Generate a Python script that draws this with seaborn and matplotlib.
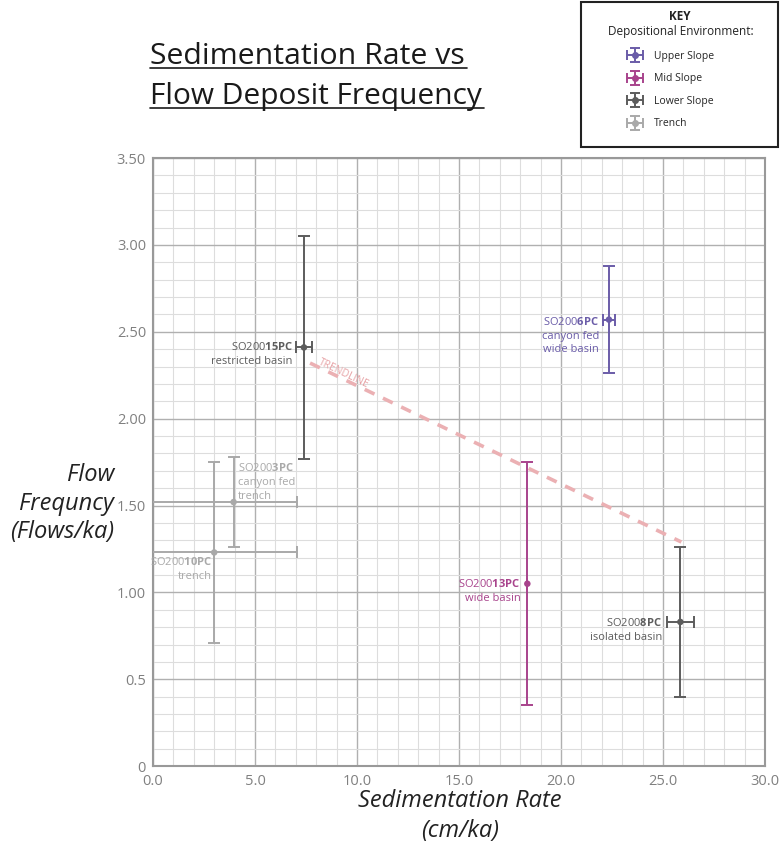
import numpy as np
import pandas as pd
import matplotlib.pyplot as plt
import seaborn as sns
from matplotlib.lines import Line2D
from matplotlib.patches import Rectangle
from matplotlib.legend_handler import HandlerErrorbar

# data
core_prefix = ["SO200", "SO200", "SO200", "SO200", "SO200", "SO200"]
core_code = ["6PC", "13PC", "15PC", "8PC", "3PC", "10PC"]
core_desc = [["canyon fed", "wide basin"], ["wide basin"], ["restricted basin"],
             ["isolated basin"], ["canyon fed", "trench"], ["trench"]]
environment = ["Upper Slope", "Mid Slope", "Lower Slope", "Lower Slope", "Trench", "Trench"]
sed_rate = [22.35, 18.35, 7.4, 25.85, 3.95, 3.0]
sed_err_low = [0.3, 0.0, 0.37, 0.65, 4.5, 4.5]
sed_err_high = [0.3, 0.0, 0.37, 0.65, 3.1, 4.05]
flow_freq = [2.57, 1.05, 2.41, 0.83, 1.52, 1.23]
flow_err = [0.31, 0.70, 0.64, 0.43, 0.26, 0.52]

trend_x = [7.7, 25.9]
trend_y = [2.32, 1.29]

env_order = ["Upper Slope", "Mid Slope", "Lower Slope", "Trench"]
env_colors = ["#6a5ca8", "#a8438c", "#5c5c5c", "#a9a9a9"]
palette = dict(zip(env_order, env_colors))

xticks = [0, 5, 10, 15, 20, 25, 30]
xtick_labels = ["0.0", "5.0", "10.0", "15.0", "20.0", "25.0", "30.0"]
yticks = [0, 0.5, 1.0, 1.5, 2.0, 2.5, 3.0, 3.5]
ytick_labels = ["0", "0.5", "1.00", "1.50", "2.00", "2.50", "3.00", "3.50"]

# label placement (offset points, horizontal alignment)
label_offset = [(-7, -11.5), (-5, -5), (-8, -5), (-13, -6), (3, 14.5), (-1.5, -12)]
label_ha = ["right", "right", "right", "right", "left", "right"]

df = pd.DataFrame({"Core": core_code, "Environment": environment,
                   "Rate": sed_rate, "Freq": flow_freq})

sns.set_theme(style="whitegrid")
plt.rcParams["font.family"] = ["Open Sans", "DejaVu Sans"]
plt.rcParams["mathtext.fontset"] = "custom"
plt.rcParams["mathtext.rm"] = "Open Sans"
plt.rcParams["mathtext.bf"] = "Open Sans:bold"

fig = plt.figure(figsize=(7.83, 8.57), dpi=100)
ax = fig.add_axes([0.1954, 0.106, 0.7816, 0.7096])
ax.set_facecolor("white")

for i in range(len(core_code)):
    c = palette[environment[i]]
    ax.errorbar(sed_rate[i], flow_freq[i], xerr=[[sed_err_low[i]], [sed_err_high[i]]],
                yerr=flow_err[i], fmt="none", ecolor=c, elinewidth=1.4, capsize=4.5,
                capthick=1.4, zorder=4)

sns.scatterplot(data=df, x="Rate", y="Freq", hue="Environment", palette=palette,
                s=22, edgecolor="none", legend=False, zorder=5, ax=ax)

# legend glyphs only (nan data, nothing drawn)
handles = []
for e in env_order:
    h = ax.errorbar([np.nan], [np.nan], xerr=[1], yerr=[1], fmt="o", color=palette[e],
                    markersize=4, elinewidth=1.4, capsize=3.5, capthick=1.4)
    handles.append(h)

ax.plot(trend_x, trend_y, color="#ebb0b3", lw=2.6, dashes=(3, 2.6), zorder=3)
ax.text(9.35, 2.26, "TRENDLINE", color="#e7a3a6", fontsize=7.5, rotation=-25.8,
        ha="center", va="center", rotation_mode="anchor", zorder=3)

for i in range(len(core_code)):
    c = palette[environment[i]]
    label = core_prefix[i] + r"$\mathbf{" + core_code[i] + "}$\n" + "\n".join(core_desc[i])
    ax.annotate(label, (sed_rate[i], flow_freq[i]), xytext=label_offset[i],
                textcoords="offset points", ha=label_ha[i], va="center",
                multialignment=label_ha[i], color=c, fontsize=8, linespacing=1.35, zorder=6)

ax.set_xlim(0, 30)
ax.set_ylim(0, 3.5)
ax.set_xticks(xticks)
ax.set_xticklabels(xtick_labels)
ax.set_yticks(yticks)
ax.set_yticklabels(ytick_labels)
ax.set_xticks(np.arange(0, 31, 1), minor=True)
ax.set_yticks(np.arange(0, 3.51, 0.1), minor=True)
ax.grid(which="major", color="#b0b0b0", lw=1.0)
ax.grid(which="minor", color="#dddddd", lw=0.8)
ax.tick_params(axis="both", which="major", labelsize=10.5, labelcolor="#808080",
               length=4, color="#999999", width=1, pad=1)
ax.tick_params(axis="x", which="major", length=0, pad=6)
ax.tick_params(which="minor", length=0)
for s in ax.spines.values():
    s.set_color("#999999")
    s.set_linewidth(1.5)
ax.set_xlabel("")
ax.set_ylabel("")

fig.text(460 / 783, 1 - 816 / 857, "Sedimentation Rate\n(cm/ka)", ha="center", va="center",
         fontsize=17, style="italic", color="#222222", linespacing=1.3)
fig.text(114 / 783, 1 - 504 / 857, "Flow\nFrequncy\n(Flows/ka)", ha="right", va="center",
         multialignment="right", fontsize=17, style="italic", color="#222222", linespacing=1.25)

# title with underlines
fig.text(150 / 783, 1 - 64 / 857, "Sedimentation Rate vs", ha="left", va="baseline",
         fontsize=21.8, color="#1a1a1a")
fig.text(150 / 783, 1 - 104 / 857, "Flow Deposit Frequency", ha="left", va="baseline",
         fontsize=21.5, color="#1a1a1a")
fig.add_artist(Line2D([150 / 783, 467 / 783], [1 - 68 / 857, 1 - 68 / 857], color="#1a1a1a", lw=1.2))
fig.add_artist(Line2D([150 / 783, 484 / 783], [1 - 108 / 857, 1 - 108 / 857], color="#1a1a1a", lw=1.2))

# key box
fig.add_artist(Rectangle((581 / 783, 1 - 147 / 857), 197 / 783, 145 / 857, transform=fig.transFigure,
                         fill=False, edgecolor="#222222", lw=1.5))
fig.text(680 / 783, 1 - 16 / 857, "KEY", ha="center", va="center", fontsize=8.5,
         fontweight="bold", color="#222222")
fig.text(681 / 783, 1 - 31 / 857, "Depositional Environment:", ha="center", va="center",
         fontsize=8.5, color="#222222")
fig.legend(handles, env_order, loc="upper left",
           bbox_to_anchor=(625 / 783, 1 - 51 / 857), frameon=False, fontsize=7.5,
           handlelength=1.9, labelspacing=1.1, handletextpad=0.9,
           borderaxespad=0, borderpad=0,
           handler_map={type(handles[0]): HandlerErrorbar(xerr_size=0.8, yerr_size=0.67)})

fig.savefig("out.png", dpi=100)
